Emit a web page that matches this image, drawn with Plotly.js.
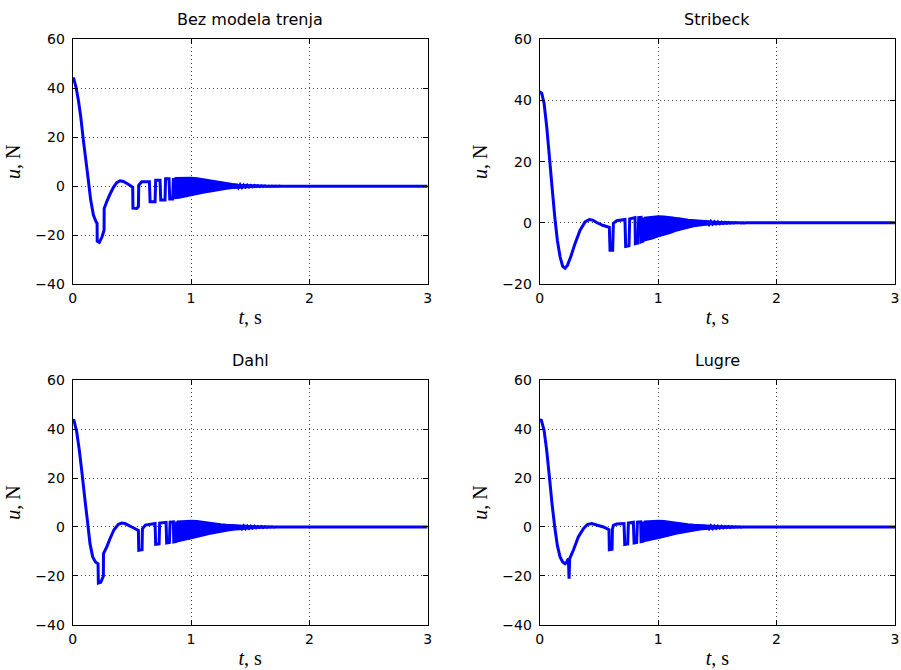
<!DOCTYPE html>
<html>
<head>
<meta charset="utf-8">
<script src="https://cdn.plot.ly/plotly-3.0.1.min.js"></script>
<style>html,body{margin:0;padding:0;background:#fff;}#chart{width:901px;height:670px;}</style>
</head>
<body>
<div id="chart"></div>
<script>
// Subplot titles
var titles = ["Bez modela trenja", "Stribeck", "Dahl", "Lugre"];
var xTickVals = [0, 1, 2, 3];
var yTickVals1 = [-40, -20, 0, 20, 40, 60];
var yTickVals2 = [-20, 0, 20, 40, 60];

// 1) Bez modela trenja
var t1 = [0, 0.006, 0.028, 0.048, 0.068, 0.09, 0.113, 0.132, 0.152, 0.175, 0.197, 0.206, 0.207, 0.225, 0.248, 0.265, 0.266, 0.287, 0.315, 0.344, 0.372, 0.4, 0.428, 0.47, 0.507, 0.509, 0.541, 0.555, 0.558, 0.583, 0.648, 0.654, 0.696, 0.701, 0.738, 0.744, 0.78, 0.785, 0.814, 0.82, 0.845, 0.851,
  0.86, 0.875, 0.89, 0.905, 0.92, 0.935, 0.95, 0.965, 0.98, 0.995, 1.01, 1.025, 1.04, 1.055, 1.07, 1.085, 1.1, 1.115, 1.13, 1.145, 1.16, 1.175, 1.19, 1.205, 1.22, 1.235, 1.25, 1.265, 1.28, 1.295, 1.31, 1.325, 1.34, 1.355, 1.37, 1.385, 1.4, 1.415, 1.43, 1.445, 1.46, 1.475, 1.49, 1.505, 1.52, 1.535, 1.55, 1.565, 1.58, 1.595, 1.61, 1.625, 1.64, 1.655, 1.67, 1.685, 1.7, 1.715, 1.73, 1.745, 1.76, 3.0];
var u1 = [43.5, 44.3, 40.5, 35.1, 28.3, 18.8, 9.9, 2.4, -5.7, -11.8, -14.6, -15.2, -22.5, -23.0, -20.7, -18.0, -9.1, -6.4, -3.3, -0.5, 1.4, 2.2, 1.9, 0.8, -0.5, -9.0, -9.1, -8.4, 0.4, 1.8, 1.8, -6.4, -6.4, 2.4, 2.4, -5.7, -5.7, 3.0, 3.0, -5.3, -5.3, 3.3,
  -5.0, 3.3, -4.8, 3.4, -4.6, 3.4, -4.3, 3.4, -4.0, 3.4, -3.7, 3.3, -3.4, 3.1, -3.0, 2.9, -2.7, 2.6, -2.4, 2.3, -2.1, 2.0, -1.8, 1.8, -1.6, 1.5, -1.4, 1.3, -1.2, 1.1, -1.0, 0.95, -0.85, 0.8, -0.7, 0.65, -0.6, 0.55, -0.5, 0.45, -0.4, 0.38, -0.32, 0.3, -0.26, 0.24, -0.2, 0.18, -0.16, 0.14, -0.12, 0.1, -0.09, 0.08, -0.06, 0.05, -0.04, 0.03, -0.02, 0.01, 0, 0];

// 2) Stribeck
var t2 = [0, 0.017, 0.037, 0.059, 0.082, 0.104, 0.127, 0.149, 0.172, 0.194, 0.214, 0.234, 0.262, 0.298, 0.341, 0.383, 0.419, 0.448, 0.481, 0.532, 0.588, 0.594, 0.616, 0.622, 0.65, 0.72, 0.726, 0.754, 0.76, 0.805, 0.808, 0.83, 0.836, 0.856, 0.858, 0.872, 0.878,
  0.89, 0.905, 0.92, 0.935, 0.95, 0.965, 0.98, 0.995, 1.01, 1.025, 1.04, 1.055, 1.07, 1.085, 1.1, 1.115, 1.13, 1.145, 1.16, 1.175, 1.19, 1.205, 1.22, 1.235, 1.25, 1.265, 1.28, 1.295, 1.31, 1.325, 1.34, 1.355, 1.37, 1.385, 1.4, 1.415, 1.43, 1.445, 1.46, 1.475, 1.49, 1.505, 1.52, 1.535, 1.55, 1.565, 1.58, 1.595, 1.61, 1.625, 1.64, 1.655, 1.67, 1.685, 1.7, 1.715, 1.73, 1.745, 1.76, 1.78, 3.0];
var u2 = [42.9, 42.4, 39.1, 31.5, 21.6, 11.8, 2.0, -5.7, -11.1, -14.2, -14.8, -13.9, -11.1, -6.8, -2.4, 0.3, 1.1, 0.9, 0.1, -0.8, -1.5, -9.0, -9.0, -0.2, 0.7, 1.1, -7.7, -7.5, 1.3, 1.7, -6.8, -6.6, 1.7, 1.8, -6.2, -6.0, 1.7,
  -5.6, 1.8, -5.3, 1.9, -5.1, 2.0, -4.8, 2.1, -4.5, 2.2, -4.1, 2.1, -3.7, 2.0, -3.3, 1.9, -2.9, 1.8, -2.5, 1.6, -2.2, 1.4, -1.9, 1.2, -1.6, 1.0, -1.3, 0.9, -1.1, 0.8, -0.9, 0.7, -0.75, 0.6, -0.6, 0.5, -0.5, 0.42, -0.4, 0.35, -0.32, 0.3, -0.26, 0.24, -0.2, 0.18, -0.16, 0.14, -0.12, 0.1, -0.09, 0.08, -0.07, 0.06, -0.05, 0.04, -0.03, 0.02, -0.01, 0, 0];

// 3) Dahl
var t3 = [0, 0.011, 0.034, 0.056, 0.079, 0.104, 0.127, 0.146, 0.169, 0.192, 0.214, 0.217, 0.237, 0.259, 0.26, 0.287, 0.315, 0.349, 0.386, 0.414, 0.442, 0.499, 0.555, 0.558, 0.586, 0.589, 0.614, 0.696, 0.701, 0.73, 0.735, 0.789, 0.794, 0.817, 0.823, 0.851, 0.854, 0.873, 0.878,
  0.89, 0.905, 0.92, 0.935, 0.95, 0.965, 0.98, 0.995, 1.01, 1.025, 1.04, 1.055, 1.07, 1.085, 1.1, 1.115, 1.13, 1.145, 1.16, 1.175, 1.19, 1.205, 1.22, 1.235, 1.25, 1.265, 1.28, 1.295, 1.31, 1.325, 1.34, 1.355, 1.37, 1.385, 1.4, 1.415, 1.43, 1.445, 1.46, 1.475, 1.49, 1.505, 1.52, 1.535, 1.55, 1.565, 1.58, 1.595, 1.61, 1.625, 1.64, 1.655, 1.67, 1.685, 1.7, 1.715, 1.73, 1.745, 1.76, 1.78, 3.0];
var u3 = [43.8, 43.5, 38.8, 31.3, 21.8, 10.9, 1.4, -6.8, -12.2, -14.3, -15.0, -22.9, -22.6, -20.1, -10.9, -8.2, -4.8, -1.1, 1.1, 1.6, 1.4, 0.0, -1.4, -9.5, -9.3, -0.7, 0.8, 1.4, -7.1, -6.9, 1.6, 1.9, -6.5, -6.3, 2.0, 2.1, -6.1, -5.9, 2.2,
  -5.8, 2.3, -5.6, 2.4, -5.3, 2.5, -5.0, 2.5, -4.7, 2.5, -4.3, 2.4, -3.9, 2.2, -3.5, 2.0, -3.1, 1.8, -2.8, 1.6, -2.5, 1.4, -2.2, 1.25, -1.9, 1.1, -1.65, 0.95, -1.4, 0.85, -1.2, 0.75, -1.0, 0.65, -0.85, 0.55, -0.7, 0.45, -0.6, 0.38, -0.5, 0.32, -0.4, 0.27, -0.32, 0.22, -0.25, 0.18, -0.2, 0.14, -0.15, 0.1, -0.1, 0.07, -0.06, 0.04, -0.03, 0.02, -0.01, 0, 0];

// 4) Lugre
var t4 = [0, 0.014, 0.037, 0.059, 0.082, 0.104, 0.127, 0.149, 0.172, 0.194, 0.214, 0.228, 0.242, 0.248, 0.253, 0.284, 0.326, 0.369, 0.402, 0.439, 0.481, 0.538, 0.585, 0.588, 0.611, 0.614, 0.622, 0.65, 0.712, 0.718, 0.743, 0.749, 0.791, 0.797, 0.819, 0.825, 0.853, 0.856, 0.873, 0.878,
  0.89, 0.905, 0.92, 0.935, 0.95, 0.965, 0.98, 0.995, 1.01, 1.025, 1.04, 1.055, 1.07, 1.085, 1.1, 1.115, 1.13, 1.145, 1.16, 1.175, 1.19, 1.205, 1.22, 1.235, 1.25, 1.265, 1.28, 1.295, 1.31, 1.325, 1.34, 1.355, 1.37, 1.385, 1.4, 1.415, 1.43, 1.445, 1.46, 1.475, 1.49, 1.505, 1.52, 1.535, 1.55, 1.565, 1.58, 1.595, 1.61, 1.625, 1.64, 1.655, 1.67, 1.685, 1.7, 1.715, 1.73, 1.745, 1.76, 1.78, 3.0];
var u4 = [43.8, 43.5, 39.5, 31.3, 20.4, 9.5, 0.0, -7.5, -12.2, -14.3, -15.0, -14.3, -12.9, -21.1, -12.9, -9.5, -4.1, -0.7, 1.0, 1.4, 0.8, 0.0, -1.1, -9.3, -9.1, -1.0, 0.7, 1.2, 1.4, -7.1, -6.9, 1.6, 1.9, -6.5, -6.3, 2.0, 2.1, -6.0, -5.8, 2.2,
  -5.7, 2.3, -5.5, 2.4, -5.2, 2.5, -4.9, 2.5, -4.6, 2.5, -4.2, 2.4, -3.8, 2.2, -3.4, 2.0, -3.0, 1.8, -2.7, 1.6, -2.4, 1.4, -2.1, 1.25, -1.85, 1.1, -1.6, 0.95, -1.35, 0.85, -1.15, 0.75, -0.95, 0.65, -0.8, 0.55, -0.68, 0.45, -0.58, 0.38, -0.48, 0.32, -0.4, 0.27, -0.32, 0.22, -0.25, 0.18, -0.2, 0.14, -0.15, 0.1, -0.1, 0.07, -0.06, 0.04, -0.03, 0.02, -0.01, 0, 0];

// Envelope of the dense chattering band
var bandT1 = [0.86, 0.9, 0.95, 1.0, 1.05, 1.1, 1.15, 1.2, 1.25, 1.3, 1.35, 1.4, 1.45, 1.5, 1.55, 1.6, 1.65, 1.7, 1.75];
var bandT234 = [0.88, 0.9, 0.95, 1.0, 1.05, 1.1, 1.15, 1.2, 1.25, 1.3, 1.35, 1.4, 1.45, 1.5, 1.55, 1.6, 1.65, 1.7, 1.75];
var bandTop1 = [3.3, 3.4, 3.4, 3.4, 3.2, 2.8, 2.4, 1.9, 1.45, 1.1, 0.85, 0.6, 0.45, 0.32, 0.22, 0.15, 0.09, 0.05, 0.02];
var bandBot1 = [-5.0, -4.75, -4.3, -3.8, -3.2, -2.7, -2.2, -1.8, -1.4, -1.05, -0.8, -0.6, -0.45, -0.32, -0.22, -0.14, -0.09, -0.05, -0.02];
var bandTop2 = [1.7, 1.8, 2.0, 2.15, 2.1, 1.9, 1.7, 1.35, 1.0, 0.8, 0.65, 0.5, 0.4, 0.3, 0.2, 0.13, 0.08, 0.05, 0.02];
var bandBot2 = [-5.8, -5.6, -5.1, -4.4, -3.8, -3.3, -2.6, -2.0, -1.6, -1.1, -0.85, -0.6, -0.42, -0.3, -0.2, -0.12, -0.08, -0.05, -0.02];
var bandTop3 = [2.2, 2.3, 2.5, 2.5, 2.4, 2.0, 1.75, 1.4, 1.1, 0.9, 0.72, 0.58, 0.45, 0.33, 0.23, 0.16, 0.1, 0.06, 0.02];
var bandBot3 = [-5.8, -5.7, -5.3, -4.8, -4.1, -3.5, -2.9, -2.4, -1.9, -1.5, -1.1, -0.85, -0.62, -0.45, -0.32, -0.2, -0.12, -0.06, -0.02];
var bandTop4 = [2.2, 2.3, 2.5, 2.5, 2.4, 2.0, 1.75, 1.4, 1.1, 0.9, 0.72, 0.58, 0.45, 0.33, 0.23, 0.16, 0.1, 0.06, 0.02];
var bandBot4 = [-5.7, -5.6, -5.2, -4.7, -4.0, -3.4, -2.8, -2.3, -1.85, -1.45, -1.05, -0.8, -0.6, -0.44, -0.3, -0.2, -0.12, -0.06, -0.02];

var series = [[t1, u1], [t2, u2], [t3, u3], [t4, u4]];
var bands = [[bandT1, bandTop1, bandBot1], [bandT234, bandTop2, bandBot2], [bandT234, bandTop3, bandBot3], [bandT234, bandTop4, bandBot4]];
var axisIds = ["", "2", "3", "4"];
var traces = [];
bands.forEach(function (b, i) {
  traces.push({
    x: b[0].concat(b[0].slice().reverse()),
    y: b[1].concat(b[2].slice().reverse()),
    type: "scatter", mode: "lines", fill: "toself", fillcolor: "#0000ff",
    line: {color: "#0000ff", width: 2},
    xaxis: "x" + axisIds[i], yaxis: "y" + axisIds[i],
    hoverinfo: "skip", showlegend: false
  });
});
series.forEach(function (s, i) {
  traces.push({
    x: s[0], y: s[1], type: "scatter", mode: "lines",
    line: {color: "#0000ff", width: 3, simplify: false},
    xaxis: "x" + axisIds[i], yaxis: "y" + axisIds[i],
    hoverinfo: "skip", showlegend: false
  });
});

var xDomL = [0.0807, 0.4747], xDomR = [0.599, 0.9933];
var yDomT = [0.5761, 0.9413], yDomB = [0.0672, 0.4328];
var tickFont = {family: "DejaVu Sans, Arial, sans-serif", size: 14, color: "#000"};
var labelFont = {family: "Liberation Serif, Times New Roman, serif", size: 20, color: "#000"};

function xAxis(dom, anchor) {
  return {
    domain: dom, anchor: anchor, range: [0, 3], tickvals: xTickVals, ticktext: xTickVals.map(String),
    showgrid: true, gridcolor: "#444", griddash: "1px,3px", gridwidth: 1,
    zeroline: false, showline: true, linecolor: "#000", linewidth: 1, mirror: "ticks",
    ticks: "inside", ticklen: 5, tickcolor: "#000", tickfont: tickFont, ticklabelstandoff: 1,
    title: {text: "<i>t</i>, s", font: labelFont, standoff: 5}, automargin: false, fixedrange: true
  };
}
function yAxis(dom, anchor, range, vals) {
  return {
    domain: dom, anchor: anchor, range: range, tickvals: vals, ticktext: vals.map(function (v) { return v < 0 ? "\u2212" + Math.abs(v) : String(v); }),
    showgrid: true, gridcolor: "#444", griddash: "1px,3px", gridwidth: 1,
    zeroline: false, showline: true, linecolor: "#000", linewidth: 1, mirror: "ticks",
    ticks: "inside", ticklen: 5, tickcolor: "#000", tickfont: tickFont, ticklabelstandoff: 4,
    title: {text: "<i>u</i>, N", font: labelFont, standoff: 9}, automargin: false, fixedrange: true
  };
}

var titleFont = {family: "DejaVu Sans, Arial, sans-serif", size: 16, color: "#000"};
var annPos = [[(xDomL[0] + xDomL[1]) / 2, 0.971], [(xDomR[0] + xDomR[1]) / 2, 0.971],
              [(xDomL[0] + xDomL[1]) / 2, 0.462], [(xDomR[0] + xDomR[1]) / 2, 0.462]];
var annotations = titles.map(function (txt, i) {
  return {text: txt, x: annPos[i][0], y: annPos[i][1], xref: "paper", yref: "paper",
          xanchor: "center", yanchor: "middle", showarrow: false, font: titleFont};
});

var layout = {
  width: 901, height: 670,
  margin: {l: 0, r: 0, t: 0, b: 0, pad: 0},
  paper_bgcolor: "#fff", plot_bgcolor: "#fff",
  showlegend: false,
  xaxis: xAxis(xDomL, "y"), yaxis: yAxis(yDomT, "x", [-40, 60], yTickVals1),
  xaxis2: xAxis(xDomR, "y2"), yaxis2: yAxis(yDomT, "x2", [-20, 60], yTickVals2),
  xaxis3: xAxis(xDomL, "y3"), yaxis3: yAxis(yDomB, "x3", [-40, 60], yTickVals1),
  xaxis4: xAxis(xDomR, "y4"), yaxis4: yAxis(yDomB, "x4", [-40, 60], yTickVals1),
  annotations: annotations
};

Plotly.newPlot("chart", traces, layout, {displayModeBar: false, staticPlot: true});
</script>
</body>
</html>
